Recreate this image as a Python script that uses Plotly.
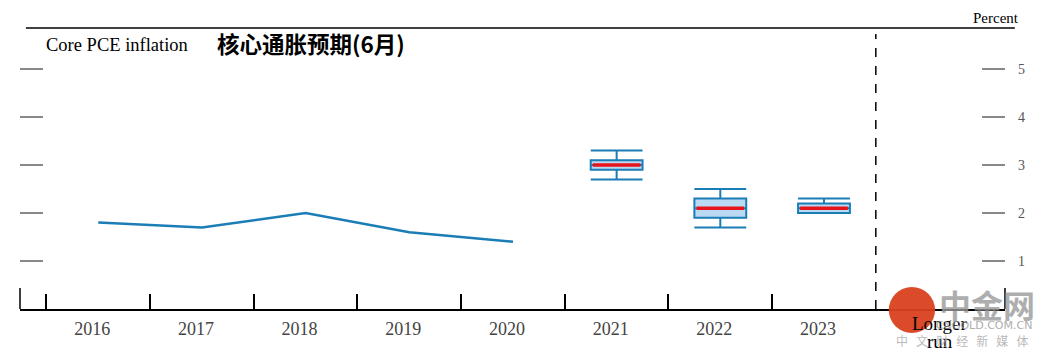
import plotly.graph_objects as go

# ---- data ----
categories = ["2016", "2017", "2018", "2019", "2020", "2021", "2022", "2023", "Longer run"]
hist_years = ["2016", "2017", "2018", "2019", "2020"]
hist_values = [1.8, 1.7, 2.0, 1.6, 1.4]
proj_years = ["2021", "2022", "2023"]
range_low = [2.7, 1.7, 2.0]
ct_low = [2.9, 1.9, 2.0]
median = [3.0, 2.1, 2.1]
ct_high = [3.1, 2.3, 2.2]
range_high = [3.3, 2.5, 2.3]
y_ticks = [1, 2, 3, 4, 5]
tick_labels = ["2016", "2017", "2018", "2019", "2020", "2021", "2022", "2023", ""]
longer_run_lines = ["Longer", "run"]

LINE_BLUE = "#1a7db5"
FILL_BLUE = "#bcd9f3"
RED = "#e8141b"
SERIF = "Liberation Serif"

pos = {c: i for i, c in enumerate(categories)}
x_hist = [pos[y] for y in hist_years]
x_proj = [pos[y] for y in proj_years]

fig = go.Figure()

# history line
fig.add_trace(go.Scatter(
    x=x_hist, y=hist_values, mode="lines",
    line=dict(color=LINE_BLUE, width=2.5),
    xaxis="x", yaxis="y2", showlegend=False, hoverinfo="skip"))

# projection boxes
fig.add_trace(go.Box(
    x=x_proj, q1=ct_low, median=median, q3=ct_high,
    lowerfence=range_low, upperfence=range_high,
    width=0.5, whiskerwidth=1, boxpoints=False,
    line=dict(color=LINE_BLUE, width=2), fillcolor=FILL_BLUE,
    xaxis="x", yaxis="y", showlegend=False, hoverinfo="skip"))

# red median lines (on the label axis, which shares the same range)
for xp, m in zip(x_proj, median):
    fig.add_trace(go.Scatter(
        x=[xp - 0.23, xp + 0.23], y=[m, m], mode="lines",
        line=dict(color=RED, width=3.5),
        xaxis="x2", yaxis="y", showlegend=False, hoverinfo="skip"))

x_range = [-0.755, 8.746]
y_range = [0, 5.854]

fig.update_layout(
    width=1038, height=350,
    margin=dict(l=12, r=41, t=20, b=49, autoexpand=False),
    paper_bgcolor="white", plot_bgcolor="white",
    font=dict(family=SERIF, color="#000"),
    xaxis=dict(
        range=x_range, tickmode="array", automargin=False,
        tickvals=[i - 0.5 for i in range(len(categories) - 1)],
        ticks="inside", ticklen=15, tickwidth=1.5, tickcolor="#000",
        showticklabels=False, showline=True, linecolor="#000", linewidth=1.5,
        showgrid=False, zeroline=False),
    xaxis2=dict(
        overlaying="x", anchor="y", side="bottom", range=x_range, automargin=False,
        tickmode="array", tickvals=list(range(len(categories))), ticktext=tick_labels,
        ticks="", showline=False, showgrid=False, zeroline=False,
        ticklabelstandoff=7, ticklabelshift=-6,
        tickfont=dict(family=SERIF, size=18, color="#444")),
    yaxis=dict(
        range=y_range, side="right", tickmode="array", tickvals=y_ticks, automargin=False,
        ticks="inside", ticklen=23, tickwidth=1.5, tickcolor="#888",
        tickfont=dict(family=SERIF, size=14, color="#555"),
        ticklabelstandoff=12,
        showline=False, showgrid=False, zeroline=False),
    yaxis2=dict(
        overlaying="y", side="left", range=y_range, tickmode="array", tickvals=y_ticks,
        automargin=False,
        ticks="inside", ticklen=23, tickwidth=1.5, tickcolor="#888",
        showticklabels=False, showline=False, showgrid=False, zeroline=False),
)

# frame pieces
fig.add_shape(type="line", xref="paper", yref="paper", x0=0.006, x1=1.010, y0=1, y1=1,
              line=dict(color="#000", width=1.5))
fig.add_shape(type="line", xref="x", yref="y", x0=7.5, x1=7.5, y0=0, y1=5.73,
              line=dict(color="#000", width=1.5, dash="dash"))
for xp in [0, 1]:
    fig.add_shape(type="line", xref="paper", yref="paper", x0=xp, x1=xp, y0=0, y1=0.075,
                  line=dict(color="#000", width=1.5))

# "Longer run" category label (two tight lines)
for k, (line_txt, ypx) in enumerate(zip(longer_run_lines, [323, 341])):
    fig.add_annotation(text=line_txt, xref="x", yref="paper",
                       x=pos["Longer run"], xshift=12, y=(309 - ypx) / 281,
                       xanchor="center", yanchor="middle", showarrow=False,
                       font=dict(family=SERIF, size=19, color="#000"))

# texts
fig.add_annotation(text="Core PCE inflation", xref="paper", yref="paper",
                   x=0.024, y=0.9395, xanchor="left", yanchor="middle", showarrow=False,
                   font=dict(family=SERIF, size=18.5, color="#000"))
fig.add_annotation(text="<b>核心通胀预期(6月)</b>", xref="paper", yref="paper",
                   x=0.198, y=0.947, xanchor="left", yanchor="middle", showarrow=False,
                   font=dict(family="Noto Sans CJK SC", size=22.5, color="#000"))
fig.add_annotation(text="Percent", xref="paper", yref="paper",
                   x=0.991, y=1.036, xanchor="center", yanchor="middle", showarrow=False,
                   font=dict(family=SERIF, size=15, color="#000"))

# watermark approximation
fig.add_shape(type="circle", xref="paper", yref="paper",
              x0=0.882, x1=0.929, y0=-0.085, y1=0.078,
              fillcolor="#d9411e", line=dict(width=0), layer="above", opacity=0.95)
fig.add_annotation(text="<b>中金网</b>", xref="paper", yref="paper",
                   x=(987 - 20) / 985, y=(309 - 304) / 281, xanchor="center", yanchor="middle",
                   showarrow=False, opacity=0.8,
                   font=dict(family="Noto Sans CJK SC", size=32, color="#9a9a9a"))
fig.add_annotation(text="CNGOLD.COM.CN", xref="paper", yref="paper",
                   x=(984 - 20) / 985, y=(309 - 325) / 281, xanchor="center", yanchor="middle",
                   showarrow=False, opacity=0.8,
                   font=dict(family="DejaVu Sans", size=11, color="#9a9a9a"))
fig.add_annotation(text="中&nbsp;&nbsp;&nbsp;文&nbsp;&nbsp;&nbsp;财&nbsp;&nbsp;&nbsp;经&nbsp;&nbsp;&nbsp;新&nbsp;&nbsp;&nbsp;媒&nbsp;&nbsp;&nbsp;体",
                   xref="paper", yref="paper",
                   x=(962 - 20) / 985, y=(309 - 340) / 281, xanchor="center", yanchor="middle",
                   showarrow=False, opacity=0.8,
                   font=dict(family="Noto Sans CJK SC", size=12, color="#aaa"))

fig.write_html("out.html")
